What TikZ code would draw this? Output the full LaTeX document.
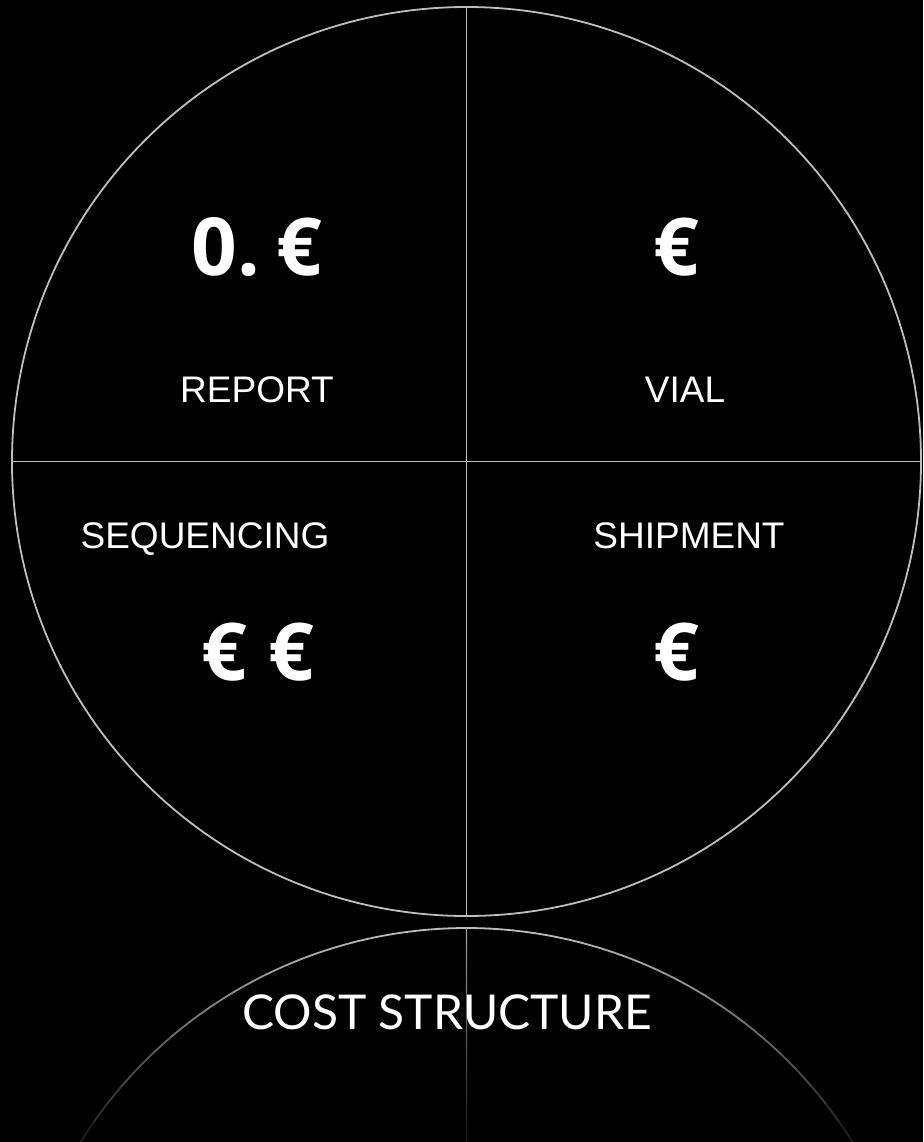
\documentclass[tikz,border=0pt]{standalone}
\usepackage{fontspec}
\newfontfamily\euroFont{Open Sans}
\newfontfamily\labelFont{Liberation Sans}
\newfontfamily\titleFont{Lato}
\definecolor{bgColor}{RGB}{0, 0, 0}
\definecolor{lineColor}{RGB}{190, 190, 190}
\definecolor{textColor}{RGB}{255, 255, 255}
\tikzset{
    quad_line/.style={
        draw=lineColor,
        line width=1.8pt
    },
    wheel_node/.style={
        circle,
        quad_line,
        inner sep=0pt,
        minimum size=909pt
    },
    euro_text/.style={
        anchor=base,
        text=textColor,
        font=\euroFont\bfseries\fontsize{80}{80}\selectfont
    },
    label_text/.style={
        anchor=base,
        text=textColor,
        font=\labelFont\fontsize{37}{37}\selectfont
    },
    title_text/.style={
        anchor=base,
        text=textColor,
        font=\titleFont\fontsize{48}{48}\selectfont
    }
}

\begin{document}
\begin{tikzpicture}[x=1pt, y=1pt]
        \fill[bgColor] (0,0) rectangle (923,-1142);
        \useasboundingbox (0,0) rectangle (923,-1142);

        % upper circle split in four
        \node[wheel_node] (wheel) at (466.5,-461.5) {};
        \draw[quad_line] (wheel.north) -- (wheel.south);
        \draw[quad_line] (wheel.west) -- (wheel.east);

        \node[euro_text] (report_cost) at (257,-275) {0.\kern0.2em€};
        \node[euro_text] (vial_cost) at (676,-275) {€};
        \node[label_text] (report) at (257,-402) {REPORT};
        \node[label_text] (vial) at (685,-402) {VIAL};
        \node[label_text] (sequencing) at (205,-548) {SEQUENCING};
        \node[label_text] (shipment) at (689,-548) {SHIPMENT};
        \node[euro_text] (sequencing_cost) at (258,-680) {€ €};
        \node[euro_text] (shipment_cost) at (676,-680) {€};

        % lower circle, fading out
        \coordinate (mirror_centre) at (466.5,-1383);
        \coordinate (mirror_top) at (466.5,-928);
        \coordinate (mirror_bottom) at (466.5,-1142);
        \foreach \i in {0,...,19} {
            \pgfmathsetmacro{\da}{\i*58/20}
            \pgfmathsetmacro{\db}{(\i+1)*58/20}
            \pgfmathsetmacro{\p}{100-88*(1-sin(90+(\da+\db)/2))/0.47}
            \draw[quad_line, draw=lineColor!\p!bgColor, line cap=round]
                (mirror_centre) ++(90+\da:455) arc (90+\da:90+\db:455);
            \draw[quad_line, draw=lineColor!\p!bgColor, line cap=round]
                (mirror_centre) ++(90-\da:455) arc (90-\da:90-\db:455);
        }
        \shade[top color=lineColor!85!bgColor, bottom color=lineColor!10!bgColor]
            ([xshift=-0.7pt]mirror_top) rectangle ([xshift=0.7pt]mirror_bottom);

        \node[title_text] (title) at (447,-1029) {COST STRUCTURE};
    \end{tikzpicture}
\end{document}
